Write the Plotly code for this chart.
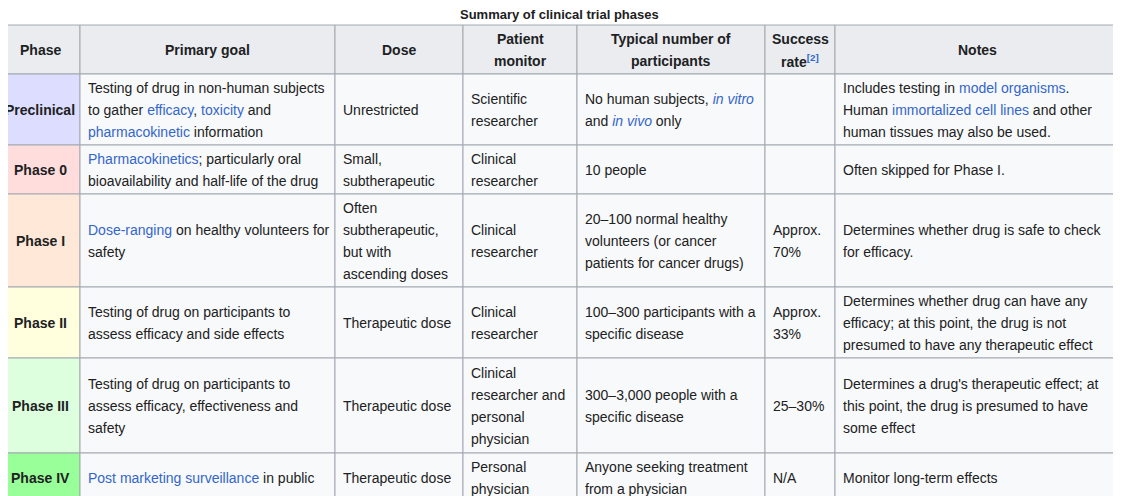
import plotly.graph_objects as go

TITLE = "Summary of clinical trial phases"
LINK = "#3366cc"


def L(t):
    return f"<span style='color:{LINK}'>{t}</span>"


def LI(t):
    return f"<i><span style='color:{LINK}'>{t}</span></i>"


headers = [["Phase"], ["Primary goal"], ["Dose"], ["Patient", "monitor"],
           ["Typical number of", "participants"],
           ["Success", f"rate<sup>{L('[2]')}</sup>"], ["Notes"]]

phases = ["Preclinical", "Phase 0", "Phase I", "Phase II", "Phase III", "Phase IV"]
phase_colors = ["#ddddff", "#ffdddd", "#ffe8d8", "#ffffdd", "#ddffdd", "#99ff99"]

goals = [
    ["Testing of drug in non-human subjects", f"to gather {L('efficacy')}, {L('toxicity')} and",
     f"{L('pharmacokinetic')} information"],
    [f"{L('Pharmacokinetics')}; particularly oral", "bioavailability and half-life of the drug"],
    [f"{L('Dose-ranging')} on healthy volunteers for", "safety"],
    ["Testing of drug on participants to", "assess efficacy and side effects"],
    ["Testing of drug on participants to", "assess efficacy, effectiveness and", "safety"],
    [f"{L('Post marketing surveillance')} in public"],
]
doses = [
    ["Unrestricted"],
    ["Small,", "subtherapeutic"],
    ["Often", "subtherapeutic,", "but with", "ascending doses"],
    ["Therapeutic dose"],
    ["Therapeutic dose"],
    ["Therapeutic dose"],
]
monitors = [
    ["Scientific", "researcher"],
    ["Clinical", "researcher"],
    ["Clinical", "researcher"],
    ["Clinical", "researcher"],
    ["Clinical", "researcher and", "personal", "physician"],
    ["Personal", "physician"],
]
participants = [
    [f"No human subjects, {LI('in vitro')}", f"and {LI('in vivo')} only"],
    ["10 people"],
    ["20–100 normal healthy", "volunteers (or cancer", "patients for cancer drugs)"],
    ["100–300 participants with a", "specific disease"],
    ["300–3,000 people with a", "specific disease"],
    ["Anyone seeking treatment", "from a physician"],
]
success = [[], [], ["Approx.", "70%"], ["Approx.", "33%"], ["25–30%"], ["N/A"]]
notes = [
    [f"Includes testing in {L('model organisms')}.", f"Human {L('immortalized cell lines')} and other",
     "human tissues may also be used."],
    ["Often skipped for Phase I."],
    ["Determines whether drug is safe to check", "for efficacy."],
    ["Determines whether drug can have any", "efficacy; at this point, the drug is not",
     "presumed to have any therapeutic effect"],
    ["Determines a drug's therapeutic effect; at", "this point, the drug is presumed to have",
     "some effect"],
    ["Monitor long-term effects"],
]

# layout geometry (pixels, page coordinates)
col_edges = [0, 80, 335, 463, 577, 765, 835, 1120]
row_edges = [25, 74, 145, 194, 287, 358, 453, 502]
LH = 22
BORDER = "#a2a9b1"
TXT = "#202122"
FONT = "Liberation Sans, Arial, sans-serif"
OFF = 8  # page body margin

fig = go.Figure()
shapes, annos = [], []


def cell(c, r, fill, lines, bold=False, center=False):
    x0, x1 = col_edges[c], col_edges[c + 1]
    y0, y1 = row_edges[r], row_edges[r + 1]
    shapes.append(dict(type="rect", x0=x0, x1=x1, y0=y0, y1=y1, fillcolor=fill,
                       line=dict(color=BORDER, width=1), layer="below"))
    yc = (y0 + y1) / 2
    n = len(lines)
    for i, t in enumerate(lines):
        annos.append(dict(
            x=(x0 + x1) / 2 if center else x0 + 6, y=yc + (i - (n - 1) / 2) * LH,
            xanchor="center" if center else "left", yanchor="middle",
            text=f"<b>{t}</b>" if bold else t, showarrow=False,
            font=dict(size=14, color=TXT, family=FONT)))


for c, h in enumerate(headers):
    cell(c, 0, "#eaecf0", h, bold=True, center=True)
columns = [goals, doses, monitors, participants, success, notes]
for r, p in enumerate(phases):
    cell(0, r + 1, phase_colors[r], [p], bold=True, center=True)
    for c, col in enumerate(columns):
        cell(c + 1, r + 1, "#f8f9fa", col[r])

annos.append(dict(x=559, y=14, text=f"<b>{TITLE}</b>", showarrow=False,
                  xanchor="center", yanchor="middle",
                  font=dict(size=13, color=TXT, family=FONT)))

fig.update_layout(
    width=1121, height=496, margin=dict(l=0, r=0, t=0, b=0),
    paper_bgcolor="white", plot_bgcolor="white", shapes=shapes, annotations=annos,
    xaxis=dict(range=[OFF, 1121 + OFF], visible=False, fixedrange=True),
    yaxis=dict(range=[496 + OFF, OFF], visible=False, fixedrange=True),
    showlegend=False,
)
fig.write_html("out.html")
